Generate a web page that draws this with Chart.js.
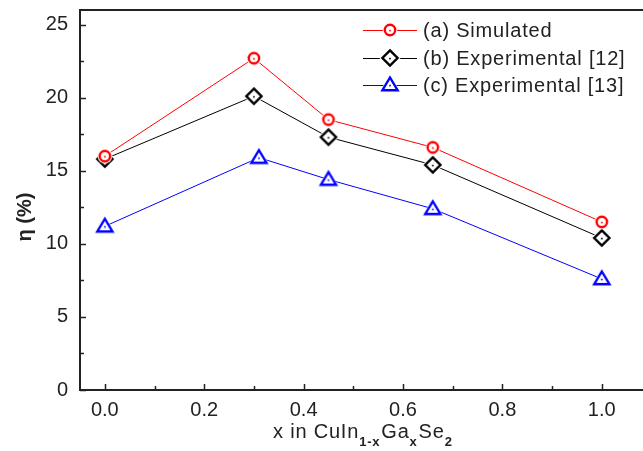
<!DOCTYPE html>
<html>
<head>
<meta charset="utf-8">
<script src="https://cdn.jsdelivr.net/npm/chart.js@4.4.1/dist/chart.umd.min.js"></script>
<style>
html,body{margin:0;padding:0;background:#fff;}
#c{display:block;}
</style>
</head>
<body>
<canvas id="c" width="643" height="451"></canvas>
<script>
// ---- data ----
const seriesNames = ["(a) Simulated", "(b) Experimental [12]", "(c) Experimental [13]"];
const xSimulated = [0.0, 0.30, 0.45, 0.66, 1.0];
const ySimulated = [16.0, 22.7, 18.5, 16.6, 11.5];
const xExp12 = [0.0, 0.30, 0.45, 0.66, 1.0];
const yExp12 = [15.8, 20.1, 17.3, 15.4, 10.4];
const xExp13 = [0.0, 0.31, 0.45, 0.66, 1.0];
const yExp13 = [11.2, 15.9, 14.4, 12.4, 7.6];
const xTicks = [0.0, 0.2, 0.4, 0.6, 0.8, 1.0];
const xMinorTicks = [0.1, 0.3, 0.5, 0.7, 0.9];
const yTicks = [0, 5, 10, 15, 20, 25];
const yMinorTicks = [2.5, 7.5, 12.5, 17.5, 22.5];
const yTitle = "η (%)";

const FONT = '"Liberation Sans", Arial, sans-serif';
const AXIS_COLOR = '#222';
const colors = ['#ff0000', '#000000', '#0000ff'];
const shapes = ['circle', 'diamond', 'triangle'];

function makeMarker(shape, color, withLine) {
  const w = withLine ? 54 : 24, h = 24;
  const c = document.createElement('canvas');
  c.width = w; c.height = h;
  const ctx = c.getContext('2d');
  const cx = w / 2, cy = h / 2;
  if (withLine) {
    ctx.strokeStyle = color; ctx.lineWidth = 1;
    ctx.beginPath(); ctx.moveTo(0, cy + 0.5); ctx.lineTo(w, cy + 0.5); ctx.stroke();
  }
  function path(s) {
    ctx.beginPath();
    if (shape === 'circle') {
      ctx.arc(cx, cy, 5.2 * s, 0, Math.PI * 2);
    } else if (shape === 'diamond') {
      const r = 7.6 * s;
      ctx.moveTo(cx, cy - r); ctx.lineTo(cx + r, cy); ctx.lineTo(cx, cy + r); ctx.lineTo(cx - r, cy); ctx.closePath();
    } else {
      const hw = 7.6 * s, top = cy - 7.5 * s, bot = cy + 5.2 * s;
      ctx.moveTo(cx, top); ctx.lineTo(cx + hw, bot); ctx.lineTo(cx - hw, bot); ctx.closePath();
    }
  }
  ctx.fillStyle = '#fff';
  path(1.4); ctx.fill();
  path(1); ctx.fill();
  ctx.strokeStyle = color; ctx.lineWidth = 2.4; ctx.lineJoin = 'miter';
  path(1); ctx.stroke();
  ctx.fillStyle = color;
  ctx.fillRect(cx - 0.8, cy - 0.2, 1.6, 1.6);
  return c;
}

const markers = shapes.map((s, i) => makeMarker(s, colors[i], false));
const legendMarkers = shapes.map((s, i) => makeMarker(s, colors[i], true));

const toPts = (xs, ys) => xs.map((x, i) => ({x: x, y: ys[i]}));
const allX = [xSimulated, xExp12, xExp13];
const allY = [ySimulated, yExp12, yExp13];

const datasets = seriesNames.map((name, i) => ({
  label: name,
  data: toPts(allX[i], allY[i]),
  borderColor: colors[i],
  backgroundColor: colors[i],
  borderWidth: 1,
  pointStyle: markers[i],
  pointRadius: 7,
  pointHoverRadius: 7,
  tension: 0,
  clip: false
}));

const decor = {
  id: 'decor',
  afterDraw(chart) {
    const ctx = chart.ctx;
    const a = chart.chartArea;
    const xs = chart.scales.x, ys = chart.scales.y;
    ctx.save();
    ctx.strokeStyle = AXIS_COLOR; ctx.lineWidth = 2;
    ctx.beginPath(); ctx.moveTo(a.left - 1, a.top); ctx.lineTo(a.right, a.top); ctx.stroke();
    ctx.lineWidth = 1.5;
    ctx.beginPath();
    xTicks.forEach(v => { const p = Math.round(xs.getPixelForValue(v)) + 0.5; ctx.moveTo(p, a.bottom); ctx.lineTo(p, a.bottom - 6); });
    xMinorTicks.forEach(v => { const p = Math.round(xs.getPixelForValue(v)) + 0.5; ctx.moveTo(p, a.bottom); ctx.lineTo(p, a.bottom - 4); });
    yTicks.forEach(v => { const p = Math.round(ys.getPixelForValue(v)) + 0.5; ctx.moveTo(a.left, p); ctx.lineTo(a.left + 6, p); });
    yMinorTicks.forEach(v => { const p = Math.round(ys.getPixelForValue(v)) + 0.5; ctx.moveTo(a.left, p); ctx.lineTo(a.left + 4, p); });
    ctx.stroke();

    // legend
    const lx = a.left + 283, rows = [30, 58, 85];
    ctx.textAlign = 'left'; ctx.textBaseline = 'middle';
    ctx.font = '20px ' + FONT;
    try { ctx.letterSpacing = '0.8px'; } catch (e) {}
    seriesNames.forEach((n, i) => {
      const m = legendMarkers[i];
      ctx.drawImage(m, lx, rows[i] - m.height / 2);
      ctx.fillStyle = AXIS_COLOR;
      ctx.fillText(n, lx + 60, rows[i] + 1);
    });

    // x title with subscripts
    let x = 273;
    const base = 438, subBase = 446;
    const parts = [['x in CuIn', false], ['1-x', true], ['Ga', false], ['x', true], ['Se', false], ['2', true]];
    ctx.textBaseline = 'alphabetic';
    parts.forEach(([t, sub]) => {
      ctx.font = (sub ? 'bold 13px ' : '20px ') + FONT;
      ctx.fillText(t, x, sub ? subBase : base);
      x += ctx.measureText(t).width + (sub ? 1 : 0);
    });

    // y title
    try { ctx.letterSpacing = '0px'; } catch (e) {}
    ctx.translate(25, 217);
    ctx.rotate(-Math.PI / 2);
    ctx.font = 'bold 20px ' + FONT;
    ctx.textAlign = 'center'; ctx.textBaseline = 'middle';
    ctx.fillText(yTitle, 0, 0);
    ctx.restore();
  }
};

new Chart(document.getElementById('c'), {
  type: 'line',
  data: { datasets: datasets },
  options: {
    responsive: false,
    animation: false,
    devicePixelRatio: 1,
    layout: { autoPadding: false, padding: { top: 10, right: 0, left: 0, bottom: 0 } },
    plugins: { legend: { display: false }, tooltip: { enabled: false } },
    scales: {
      x: {
        type: 'linear',
        min: -0.05, max: 1.083,
        afterBuildTicks: s => { s.ticks = xTicks.map(v => ({value: v})); },
        afterFit: s => { s.height = 61; s.paddingLeft = 0; s.paddingRight = 0; },
        grid: { display: false, drawTicks: false },
        border: { display: true, color: AXIS_COLOR, width: 2 },
        ticks: {
          padding: 8,
          color: AXIS_COLOR,
          font: { family: FONT, size: 20 },
          callback: v => Number(v).toFixed(1),
          maxRotation: 0
        }
      },
      y: {
        type: 'linear',
        min: 0, max: 26,
        afterBuildTicks: s => { s.ticks = yTicks.map(v => ({value: v})); },
        afterFit: s => { s.width = 80; s.paddingTop = 0; s.paddingBottom = 0; },
        grid: { display: false, drawTicks: false },
        border: { display: true, color: AXIS_COLOR, width: 2 },
        ticks: {
          padding: 12,
          color: AXIS_COLOR,
          font: { family: FONT, size: 20 },
          callback: v => String(v)
        }
      }
    }
  },
  plugins: [decor]
});
</script>
</body>
</html>
